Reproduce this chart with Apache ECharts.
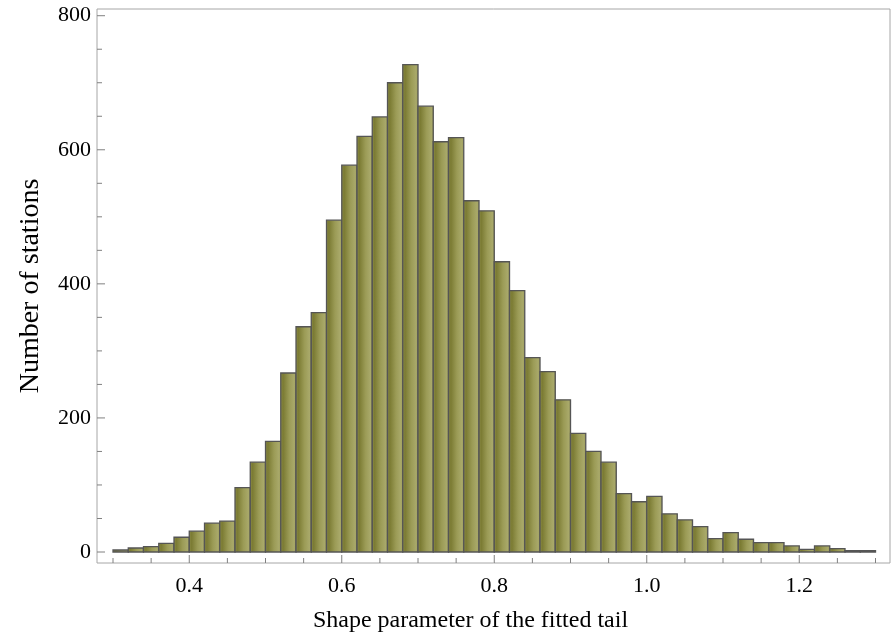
<!DOCTYPE html>
<html>
<head>
<meta charset="utf-8">
<script src="https://cdn.jsdelivr.net/npm/echarts@6/dist/echarts.min.js"></script>
<style>
html,body{margin:0;padding:0;background:#fff;}
#chart{width:894px;height:638px;}
</style>
</head>
<body>
<div id="chart"></div>
<script>
// Histogram bin edges (shape parameter)
const binEdges = [0.30,0.32,0.34,0.36,0.38,0.40,0.42,0.44,0.46,0.48,0.50,0.52,0.54,0.56,0.58,0.60,0.62,0.64,0.66,0.68,0.70,0.72,0.74,0.76,0.78,0.80,0.82,0.84,0.86,0.88,0.90,0.92,0.94,0.96,0.98,1.00,1.02,1.04,1.06,1.08,1.10,1.12,1.14,1.16,1.18,1.20,1.22,1.24,1.26,1.28,1.30];
// Number of stations per bin
const counts = [3,6,8,13,22,31,43,46,96,134,165,267,336,357,495,577,620,649,700,727,665,612,618,524,509,433,390,290,269,227,177,150,134,87,75,83,57,48,38,20,29,19,14,14,9,4,9,5,2,2];
// Tick positions / labels
const xMinorTicks = [0.30,0.35,0.45,0.50,0.55,0.65,0.70,0.75,0.85,0.90,0.95,1.05,1.10,1.15,1.25,1.30];
const xMajorTicks = [0.4,0.6,0.8,1.0,1.2];
const yMinorTicks = [50,100,150,250,300,350,450,500,550,650,700,750];
const yMajorTicks = [0,200,400,600,800];
const xTitle = 'Shape parameter of the fitted tail';
const yTitle = 'Number of stations';

const data = counts.map((c, i) => [binEdges[i], binEdges[i + 1], c]);

const chart = echarts.init(document.getElementById('chart'), null, {renderer: 'canvas'});
const font = 'Liberation Serif';
const fill = new echarts.graphic.LinearGradient(0, 0, 1, 0, [
  {offset: 0, color: '#8e8e4a'},
  {offset: 0.18, color: '#7b7b33'},
  {offset: 0.55, color: '#9b9b56'},
  {offset: 0.85, color: '#a9a96a'},
  {offset: 1, color: '#959550'}
]);

const xMin = 0.279, xMax = 1.319, yMin = -16.4, yMax = 810;
const tickColor = '#808080';

// tick marks: [value, axis (0 = x, 1 = y), major flag]
const tickData = []
  .concat(xMinorTicks.map(v => [v, 0, 0]))
  .concat(xMajorTicks.map(v => [v, 0, 1]))
  .concat(yMinorTicks.map(v => [v, 1, 0]))
  .concat(yMajorTicks.map(v => [v, 1, 1]));

chart.setOption({
  animation: false,
  grid: {left: 97, right: 4, top: 9, bottom: 75, show: true, borderColor: '#a6a6a6', borderWidth: 1, containLabel: false},
  xAxis: {
    type: 'value', min: xMin, max: xMax, position: 'bottom',
    axisLine: {show: false},
    splitLine: {show: false},
    axisTick: {show: false},
    axisLabel: {show: true, customValues: xMajorTicks, formatter: v => v.toFixed(1), color: '#000', fontFamily: font, fontSize: 22, margin: 12},
    name: xTitle, nameLocation: 'middle', nameGap: 46,
    nameTextStyle: {color: '#000', fontFamily: font, fontSize: 24, padding: [0, 46, 0, 0]}
  },
  yAxis: {
    type: 'value', min: yMin, max: yMax, position: 'left',
    axisLine: {show: false},
    splitLine: {show: false},
    axisTick: {show: false},
    axisLabel: {show: true, customValues: yMajorTicks, color: '#000', fontFamily: font, fontSize: 22, margin: 6},
    name: yTitle, nameLocation: 'middle', nameGap: 52, nameRotate: 90,
    nameTextStyle: {color: '#000', fontFamily: font, fontSize: 28}
  },
  series: [{
    type: 'custom',
    data: data,
    encode: {x: [0, 1], y: 2},
    renderItem: function (params, api) {
      const x0 = api.value(0), x1 = api.value(1), v = api.value(2);
      const p0 = api.coord([x0, v]);
      const p1 = api.coord([x1, 0]);
      return {
        type: 'rect',
        shape: {x: p0[0], y: p0[1], width: p1[0] - p0[0], height: p1[1] - p0[1]},
        style: {fill: fill, stroke: '#555555', lineWidth: 1.3}
      };
    }
  }, {
    type: 'custom',
    data: tickData,
    clip: false,
    silent: true,
    encode: {x: -1, y: -1},
    renderItem: function (params, api) {
      const v = api.value(0), isY = api.value(1), major = api.value(2);
      const len = major ? 8 : 5;
      let shape;
      if (isY) {
        const p = api.coord([xMin, v]);
        shape = {x1: p[0], y1: p[1], x2: p[0] + len, y2: p[1]};
      } else {
        const p = api.coord([v, yMin]);
        shape = {x1: p[0], y1: p[1], x2: p[0], y2: p[1] - len};
      }
      return {type: 'line', shape: shape, style: {stroke: tickColor, lineWidth: 1}};
    }
  }]
});
</script>
</body>
</html>
